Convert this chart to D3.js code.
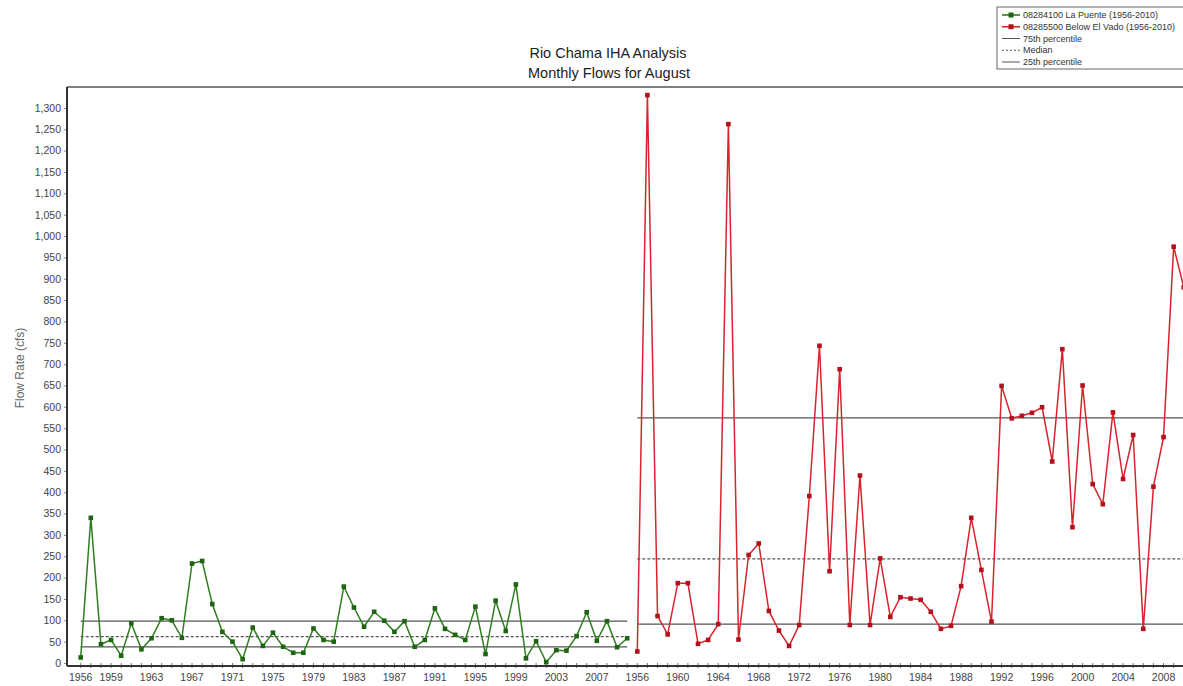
<!DOCTYPE html>
<html>
<head>
<meta charset="UTF-8">
<title>Rio Chama IHA Analysis</title>
<script src="https://cdn.jsdelivr.net/npm/d3@7"></script>
<style>
  body { margin: 0; background: #fff; }
  text { font-family: "Liberation Sans", Arial, sans-serif; }
</style>
</head>
<body>
<div id="chart"></div>
<script>
// years shown for each gauge (the two periods are laid side by side)
var years = [1956,1957,1958,1959,1960,1961,1962,1963,1964,1965,1966,1967,1968,1969,1970,
  1971,1972,1973,1974,1975,1976,1977,1978,1979,1980,1981,1982,1983,1984,1985,1986,1987,
  1988,1989,1990,1991,1992,1993,1994,1995,1996,1997,1998,1999,2000,2001,2002,2003,2004,
  2005,2006,2007,2008,2009,2010];

// 08284100 La Puente, August mean flow (cfs)
var laPuente = [13,340,44,54,17,93,32,58,105,100,59,233,239,138,73,50,9,83,40,71,
  38,24,24,81,54,50,179,130,85,120,99,73,98,38,54,128,80,66,54,132,
  21,146,75,184,11,51,2,30,29,63,119,52,98,37,58];

// 08285500 Below El Vado, August mean flow (cfs)
var belowElVado = [27,1330,110,67,187,187,45,54,91,1262,55,253,280,122,76,40,89,391,743,215,
  688,89,439,89,245,108,154,151,148,120,80,87,180,340,218,97,649,573,579,586,
  599,472,735,318,650,419,372,587,431,534,80,413,529,975,880];

// percentile lines [75th, median, 25th]
var laPuentePct = [98, 62, 38];
var elVadoPct = [574, 244, 91];

var greenTicks = [1956,1959,1963,1967,1971,1975,1979,1983,1987,1991,1995,1999,2003,2007];
var redTicks = [1956,1960,1964,1968,1972,1976,1980,1984,1988,1992,1996,2000,2004,2008];
var yTicks = [0,50,100,150,200,250,300,350,400,450,500,550,600,650,700,750,800,850,900,
  950,1000,1050,1100,1150,1200,1250,1300];

var legendItems = [
  {label: "08284100 La Puente (1956-2010)", type: "green"},
  {label: "08285500 Below El Vado (1956-2010)", type: "red"},
  {label: "75th percentile", type: "solid"},
  {label: "Median", type: "dash"},
  {label: "25th percentile", type: "solid"}
];

var width = 1183, height = 686;
var frame = {left: 67, top: 87, bottom: 666, right: 1195};
var n = years.length;

var svg = d3.select("#chart").append("svg")
  .attr("width", width).attr("height", height);

// x: one slot per year, green period first then red period
var x = d3.scaleLinear().domain([0, 2 * n - 1]).range([80.7, 80.7 + (2 * n - 1) * 10.12]);
var y = d3.scaleLinear().domain([-7, 1349]).range([frame.bottom, frame.top]);

var greenIdx = years.map(function(d, i) { return i; });
var redIdx = years.map(function(d, i) { return i + n; });

// title
svg.append("text").attr("x", 608).attr("y", 58).attr("text-anchor", "middle")
  .attr("font-size", 14.5).attr("fill", "#222").text("Rio Chama IHA Analysis");
svg.append("text").attr("x", 609).attr("y", 78).attr("text-anchor", "middle")
  .attr("font-size", 14.5).attr("fill", "#222").text("Monthly Flows for August");

// y axis
var yAxis = d3.axisLeft(y).tickValues(yTicks).tickFormat(d3.format(",")).tickSize(3).tickPadding(3);
var gy = svg.append("g").attr("transform", "translate(" + frame.left + ",0)").call(yAxis);
gy.select(".domain").remove();
gy.selectAll("text").attr("font-size", 10.5).attr("fill", "#444").style("font-family", "Liberation Sans, Arial");
gy.selectAll("line").attr("stroke", "#888");

svg.append("text").attr("transform", "translate(24,368) rotate(-90)")
  .attr("text-anchor", "middle").attr("font-size", 12).attr("fill", "#666")
  .text("Flow Rate (cfs)");

// x axis: small tick at every year, labels on selected years
var allIdx = greenIdx.concat(redIdx);
var gx = svg.append("g").attr("transform", "translate(0," + frame.bottom + ")");
gx.selectAll("line").data(allIdx).enter().append("line")
  .attr("x1", function(d) { return x(d); }).attr("x2", function(d) { return x(d); })
  .attr("y1", -3).attr("y2", 2).attr("stroke", "#777").attr("stroke-width", 1);
var labelIdx = greenTicks.map(function(t) { return years.indexOf(t); })
  .concat(redTicks.map(function(t) { return years.indexOf(t) + n; }));
gx.selectAll("text").data(labelIdx).enter().append("text")
  .attr("x", function(d) { return x(d); }).attr("y", 15)
  .attr("text-anchor", "middle").attr("font-size", 10.5).attr("fill", "#444")
  .text(function(d) { return years[d % n]; });

// frame
svg.append("line").attr("x1", frame.left).attr("x2", frame.right)
  .attr("y1", frame.top).attr("y2", frame.top).attr("stroke", "#555").attr("stroke-width", 1.5);
svg.append("line").attr("x1", frame.left).attr("x2", frame.left)
  .attr("y1", frame.top).attr("y2", frame.bottom).attr("stroke", "#333").attr("stroke-width", 2);
svg.append("line").attr("x1", frame.left).attr("x2", frame.right)
  .attr("y1", frame.bottom).attr("y2", frame.bottom).attr("stroke", "#333").attr("stroke-width", 2);

// percentile lines
function pctLines(vals, x1, x2) {
  vals.forEach(function(v, i) {
    svg.append("line").attr("x1", x1).attr("x2", x2)
      .attr("y1", y(v)).attr("y2", y(v))
      .attr("stroke", "#555").attr("stroke-width", 1.3)
      .attr("stroke-dasharray", i === 1 ? "3,2" : null);
  });
}
pctLines(laPuentePct, x(0), x(n - 1));
pctLines(elVadoPct, x(n), frame.right);

// series
var line = d3.line().x(function(d) { return x(d[0]); }).y(function(d) { return y(d[1]); });

function drawSeries(idx, vals, lineColor, markColor) {
  var pts = idx.map(function(d, i) { return [d, vals[i]]; });
  svg.append("path").datum(pts).attr("d", line)
    .attr("fill", "none").attr("stroke", lineColor).attr("stroke-width", 1.5);
  svg.selectAll(null).data(pts).enter().append("rect")
    .attr("x", function(d) { return x(d[0]) - 2.3; })
    .attr("y", function(d) { return y(d[1]) - 2.3; })
    .attr("width", 4.6).attr("height", 4.6).attr("fill", markColor);
}
drawSeries(greenIdx, laPuente, "#2f7d1f", "#1f6412");
drawSeries(redIdx, belowElVado, "#d9232d", "#b3121c");

// legend
var lg = svg.append("g");
lg.append("rect").attr("x", 997).attr("y", 7).attr("width", 200).attr("height", 62)
  .attr("fill", "#fff").attr("stroke", "#666").attr("stroke-width", 1);
var ly = d3.scaleLinear().domain([0, 4]).range([15, 62]);
legendItems.forEach(function(d, i) {
  var yy = ly(i);
  var c = d.type === "green" ? "#2f7d1f" : d.type === "red" ? "#d9232d" : "#555";
  lg.append("line").attr("x1", 1002).attr("x2", 1020).attr("y1", yy).attr("y2", yy)
    .attr("stroke", c).attr("stroke-width", d.type === "green" || d.type === "red" ? 1.6 : 1)
    .attr("stroke-dasharray", d.type === "dash" ? "2,2" : null);
  if (d.type === "green" || d.type === "red") {
    lg.append("rect").attr("x", 1008.5).attr("y", yy - 2.5).attr("width", 5).attr("height", 5)
      .attr("fill", d.type === "green" ? "#1f6412" : "#b3121c");
  }
  lg.append("text").attr("x", 1023).attr("y", yy + 3).attr("font-size", 9)
    .attr("fill", "#333").text(d.label);
});
</script>
</body>
</html>
